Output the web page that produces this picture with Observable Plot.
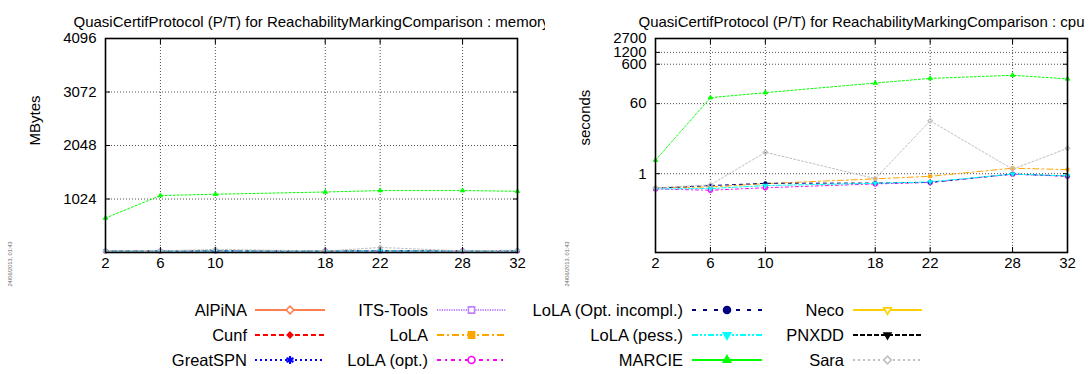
<!DOCTYPE html>
<html><head><meta charset="utf-8">
<script src="https://cdn.jsdelivr.net/npm/d3@7"></script>
<script src="https://cdn.jsdelivr.net/npm/@observablehq/plot@0.6"></script>
<style>
body{margin:0;background:#fff;font-family:"Liberation Sans",Arial,Helvetica,sans-serif;}
#panels{display:flex;width:1089px;height:295px;}
#panels svg{overflow:hidden;flex:none;}
#legend{margin-top:-15px;width:1089px;height:94px;}
</style></head><body>
<div id="panels"></div>
<div id="legend"></div>
<script>
// ---- data ----
const sizes = [2, 6, 10, 18, 22, 28, 32];
const memTicks = [1024, 2048, 3072, 4096];
const cpuTicks = [1, 60, 600, 1200, 2700];
const tools = ["AlPiNA","Cunf","GreatSPN","ITS-Tools","LoLA","LoLA (opt.)","LoLA (Opt. incompl.)","LoLA (pess.)","MARCIE","Neco","PNXDD","Sara"];
const titleMem = "QuasiCertifProtocol (P/T) for ReachabilityMarkingComparison : memory";
const titleCpu = "QuasiCertifProtocol (P/T) for ReachabilityMarkingComparison : cpu";
const stamp = "24/06/2013, 01:43";

// memory (MBytes)
const memLoLA         = [30, 31, 33, 32, 36, 34, 35];
const memLoLAOpt      = [27, 28, 30, 29, 31, 31, 32];
const memLoLAIncompl  = [28, 29, 31, 30, 32, 32, 33];
const memLoLAPess     = [26, 27, 29, 28, 30, 30, 31];
const memMARCIE       = [660, 1090, 1115, 1158, 1185, 1185, 1172];
const memSara         = [25, 30, 60, 28, 96, 30, 45];
// cpu (seconds)
const cpuLoLA         = [0.44, 0.46, 0.56, 0.74, 0.86, 1.38, 1.27];
const cpuLoLAOpt      = [0.41, 0.38, 0.44, 0.55, 0.60, 0.97, 0.86];
const cpuLoLAIncompl  = [0.43, 0.50, 0.57, 0.58, 0.60, 0.98, 0.87];
const cpuLoLAPess     = [0.41, 0.42, 0.50, 0.57, 0.62, 0.98, 0.88];
const cpuMARCIE       = [2.2, 85, 114, 200, 262, 315, 255];
const cpuSara         = [0.44, 0.52, 3.5, 0.75, 22, 1.3, 4.4];

const memSeries = {"LoLA": memLoLA, "LoLA (opt.)": memLoLAOpt, "LoLA (Opt. incompl.)": memLoLAIncompl, "LoLA (pess.)": memLoLAPess, "MARCIE": memMARCIE, "Sara": memSara};
const cpuSeries = {"LoLA": cpuLoLA, "LoLA (opt.)": cpuLoLAOpt, "LoLA (Opt. incompl.)": cpuLoLAIncompl, "LoLA (pess.)": cpuLoLAPess, "MARCIE": cpuMARCIE, "Sara": cpuSara};

// ---- styles ----
const diamond = {draw(ctx, size){const r = Math.sqrt(size) * 0.62; ctx.moveTo(0,-r); ctx.lineTo(r,0); ctx.lineTo(0,r); ctx.lineTo(-r,0); ctx.closePath();}};
const triDown = {draw(ctx, size){d3.symbolTriangle.draw({moveTo:(x,y)=>ctx.moveTo(x,-y), lineTo:(x,y)=>ctx.lineTo(x,-y), closePath:()=>ctx.closePath()}, size);}};
const styles = {
  "AlPiNA":               {color:"#ff7f50", dash:null,              plotDash:null,          sym:diamond,             open:true},
  "Cunf":                 {color:"#ff0000", dash:"5,3",             plotDash:"5,3",         sym:diamond,             open:false, small:true},
  "GreatSPN":             {color:"#0000ff", dash:"2,3",             plotDash:"2,3",         sym:d3.symbolAsterisk,   open:true, thick:true},
  "ITS-Tools":            {color:"#c080ff", dash:"1.2,1.2",         plotDash:"1,1",         sym:d3.symbolSquare,     open:true},
  "LoLA":                 {color:"#ffa500", dash:"7,3,2,3",         plotDash:"6,3,2,3",     sym:d3.symbolSquare,     open:false},
  "LoLA (opt.)":          {color:"#ff00ff", dash:"4,4,2,4",         plotDash:"3,3,1,3",     sym:d3.symbolCircle,     open:true},
  "LoLA (Opt. incompl.)": {color:"#000080", dash:"4,7",             plotDash:"3,4",         sym:d3.symbolCircle,     open:false},
  "LoLA (pess.)":         {color:"#00ffff", dash:"6,2,2,2,2,2",     plotDash:"5,2,2,2",     sym:triDown,             open:false, tri:true},
  "MARCIE":               {color:"#00ff00", dash:null,              plotDash:"2,2",         sym:d3.symbolTriangle,   open:false, tri:true},
  "Neco":                 {color:"#ffd000", dash:null,              plotDash:null,          sym:triDown,             open:true, tri:true},
  "PNXDD":                {color:"#000000", dash:"5,2",             plotDash:"5,2",         sym:triDown,             open:false, small:true},
  "Sara":                 {color:"#c0c0c0", dash:"2,3",             plotDash:"2,2",         sym:diamond,             open:true}
};

const gridStyle = {stroke:"#111", strokeOpacity:0.75, strokeDasharray:"1,2", strokeWidth:1};

function panel({width, marginLeft, marginRight, y, ticks, title, ylabel, series, stampDx}) {
  const marks = [
    Plot.ruleX(sizes, {x: d => d, ...gridStyle}),
    Plot.ruleY(ticks, {y: d => d, ...gridStyle})
  ];
  for (const t of tools) {
    const vals = series[t];
    if (!vals) continue;
    const st = styles[t];
    const rows = sizes.map((s, i) => ({x: s, y: vals[i]}));
    marks.push(Plot.line(rows, {x:"x", y:"y", stroke: st.color, strokeWidth:1, strokeDasharray: st.plotDash}));
  }
  for (const t of tools) {
    const vals = series[t];
    if (!vals) continue;
    const st = styles[t];
    const rows = sizes.map((s, i) => ({x: s, y: vals[i]}));
    marks.push(Plot.dot(rows, {x:"x", y:"y", symbol: st.sym, r: st.open ? 2 : 1.7, stroke: st.color, strokeWidth: st.open ? 1.3 : 0.8, fill: st.open ? "none" : st.color}));
  }
  marks.push(
    Plot.axisX(sizes, {tickSize:-5, tickFormat:() => "", stroke:"#000", label:null}),
    Plot.axisX(sizes, {anchor:"top", tickSize:-5, tickFormat:() => "", stroke:"#000", label:null}),
    Plot.axisY(ticks, {tickSize:-5, tickFormat:() => "", stroke:"#000", label:null}),
    Plot.axisY(ticks, {anchor:"right", tickSize:-5, tickFormat:() => "", stroke:"#000", label:null}),
    Plot.text(sizes, {x: d => d, text: d => String(d), frameAnchor:"bottom", dy:15, fontSize:15, fill:"#000"}),
    Plot.text(ticks, {y: d => d, text: d => String(d), frameAnchor:"left", dx:-9, textAnchor:"end", fontSize:15, fill:"#000"}),
    Plot.frame({stroke:"#000", strokeWidth:1.6}),
    Plot.text([title], {frameAnchor:"top", dy:-22, fontSize:15, fill:"#000"}),
    Plot.text([ylabel], {frameAnchor:"left", dx:-70, rotate:-90, fontSize:15, fill:"#000"}),
    Plot.text([stamp], {frameAnchor:"bottom-left", dx:stampDx, dy:34, rotate:-90, textAnchor:"start", fontSize:5.6, fill:"#666"})
  );
  return Plot.plot({
    width, height:295,
    marginLeft, marginRight, marginTop:38, marginBottom:43,
    style:{fontFamily:'"Liberation Sans", Arial, sans-serif', fontSize:"15px", background:"transparent", overflow:"hidden"},
    x:{domain:[2,32]},
    y,
    marks
  });
}

const panels = document.getElementById("panels");
panels.appendChild(panel({width:545, marginLeft:105, marginRight:28, y:{domain:[0,4096]}, ticks:memTicks, title:titleMem, ylabel:"MBytes", series:memSeries, stampDx:-94}));
panels.appendChild(panel({width:544, marginLeft:110, marginRight:22, y:{type:"log", domain:[0.01,2700]}, ticks:cpuTicks, title:titleCpu, ylabel:"seconds", series:cpuSeries, stampDx:-87}));

// ---- legend ----
const textEnd = [247, 428, 683, 844];
const lineStart = [255, 437, 692, 853];
const lineEnd = [325, 506, 762, 922];
const rowY = [30, 55, 80];
const svg = d3.select("#legend").append("svg").attr("width",1089).attr("height",94)
  .style("font-family",'"Liberation Sans", Arial, sans-serif').style("overflow","visible");
tools.forEach((t, i) => {
  const c = Math.floor(i / 3), r = i % 3, st = styles[t], y = rowY[r];
  svg.append("text").attr("x", textEnd[c]).attr("y", y).attr("dy","0.35em").attr("text-anchor","end")
    .attr("font-size", 16.5).attr("fill","#000").text(t);
  svg.append("line").attr("x1", lineStart[c]).attr("x2", lineEnd[c]).attr("y1", y).attr("y2", y)
    .attr("stroke", st.color).attr("stroke-width", 2).attr("stroke-dasharray", st.dash);
  const size = st.small ? 20 : st.tri ? 24 : (st.sym === d3.symbolAsterisk ? 45 : 38);
  svg.append("path").attr("d", d3.symbol(st.sym, size)())
    .attr("transform", `translate(${(lineStart[c] + lineEnd[c]) / 2},${y})`)
    .attr("fill", st.open ? "white" : st.color).attr("stroke", st.color).attr("stroke-width", st.thick ? 2.2 : 1.6);
});
</script>
</body></html>
